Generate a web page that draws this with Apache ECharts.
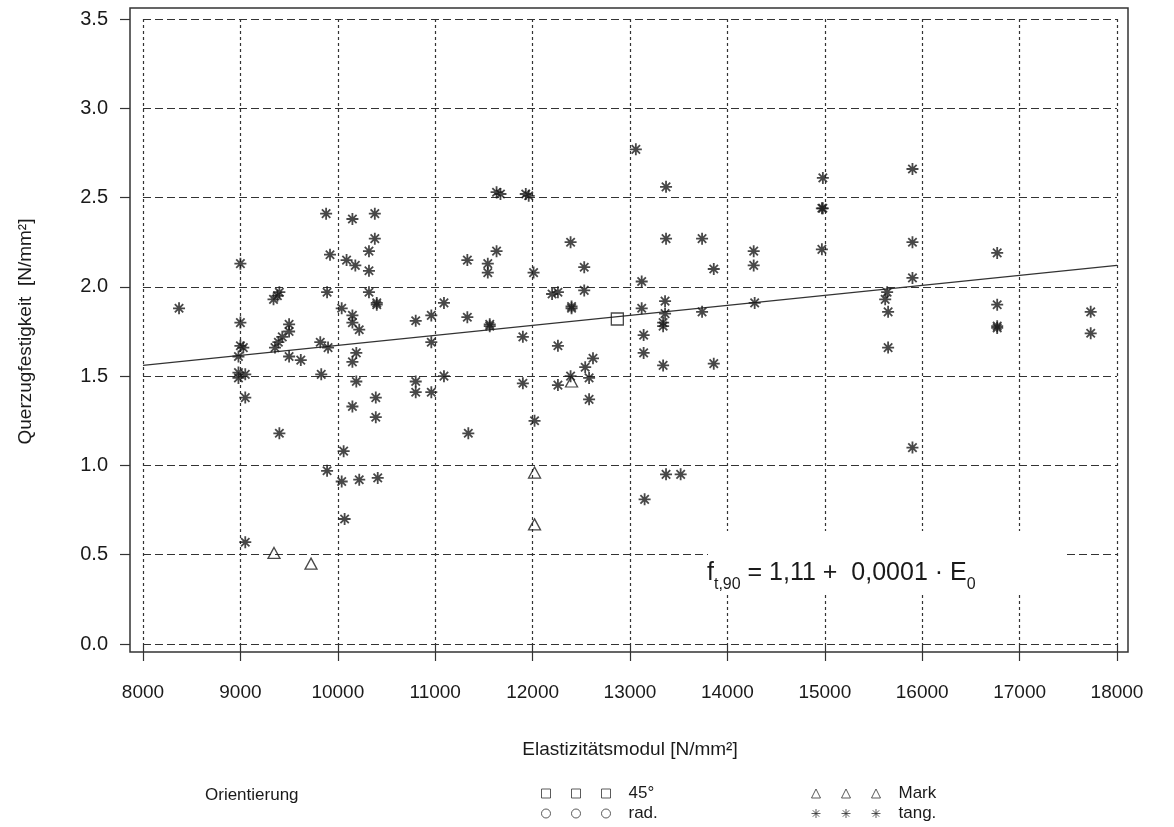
<!DOCTYPE html>
<html>
<head>
<meta charset="utf-8">
<script src="https://cdn.jsdelivr.net/npm/echarts@6/dist/echarts.min.js"></script>
<style>
html,body{margin:0;padding:0;background:#fff;}
#chart{width:1174px;height:827px;}
</style>
</head>
<body>
<div id="chart"></div>
<script>
// ---- data ----
var xTicks = [8000, 9000, 10000, 11000, 12000, 13000, 14000, 15000, 16000, 17000, 18000];
var yTicks = ['0.0', '0.5', '1.0', '1.5', '2.0', '2.5', '3.0', '3.5'];

var tangE = [8370, 9000, 9000, 9000, 9030, 8980, 8980, 9050, 8980, 9050, 9050,
  9400, 9380, 9340, 9500, 9500, 9430, 9390, 9355, 9500, 9620, 9400,
  9820, 9900, 9830, 9880, 9920, 9890, 9890,
  10040, 10150, 10380, 10380, 10320, 10090, 10180, 10320, 10320, 10400, 10400,
  10150, 10150, 10220, 10190, 10150, 10190, 10390, 10150, 10390, 10060, 10040, 10220, 10410, 10070,
  10800, 10960, 11090, 10960, 11090, 10800, 10800, 10960,
  11330, 11540, 11540, 11630, 11330, 11560, 11560, 11340, 11630, 11670, 11930, 11960,
  12010, 11900, 11900, 12020, 12200, 12260, 12390, 12530, 12530, 12400, 12400, 12260,
  12620, 12540, 12580, 12390, 12260, 12580,
  13060, 13370, 13370, 13120, 13120, 13360, 13360, 13340, 13340, 13140, 13140, 13340,
  13370, 13520, 13150, 13740, 13740, 13860, 13860, 14270, 14270, 14280,
  14980, 14970, 14980, 14970, 15640, 15620, 15650, 15650, 15900, 15900, 15900, 15900,
  16770, 16770, 16770, 16770, 17730, 17730];
var tangF = [1.88, 2.13, 1.80, 1.67, 1.66, 1.61, 1.52, 1.51, 1.49, 1.38, 0.57,
  1.97, 1.95, 1.93, 1.79, 1.75, 1.72, 1.69, 1.66, 1.61, 1.59, 1.18,
  1.69, 1.66, 1.51, 2.41, 2.18, 1.97, 0.97,
  1.88, 2.38, 2.41, 2.27, 2.20, 2.15, 2.12, 2.09, 1.97, 1.90, 1.91,
  1.84, 1.80, 1.76, 1.63, 1.58, 1.47, 1.38, 1.33, 1.27, 1.08, 0.91, 0.92, 0.93, 0.70,
  1.81, 1.84, 1.91, 1.69, 1.50, 1.47, 1.41, 1.41,
  2.15, 2.13, 2.08, 2.20, 1.83, 1.79, 1.78, 1.18, 2.53, 2.52, 2.52, 2.51,
  2.08, 1.72, 1.46, 1.25, 1.96, 1.97, 2.25, 2.11, 1.98, 1.89, 1.88, 1.67,
  1.60, 1.55, 1.49, 1.50, 1.45, 1.37,
  2.77, 2.56, 2.27, 2.03, 1.88, 1.92, 1.85, 1.80, 1.78, 1.73, 1.63, 1.56,
  0.95, 0.95, 0.81, 2.27, 1.86, 2.10, 1.57, 2.20, 2.12, 1.91,
  2.61, 2.44, 2.44, 2.21, 1.97, 1.93, 1.86, 1.66, 2.66, 2.25, 2.05, 1.10,
  2.19, 1.90, 1.78, 1.77, 1.86, 1.74];

var markE = [9345, 9725, 12020, 12020, 12400];
var markF = [0.51, 0.45, 0.96, 0.67, 1.47];

var deg45E = [12870];
var deg45F = [1.82];

var radE = [];
var radF = [];

// regression line f = 1,11 + 0,0001 * E0 (as drawn)
var lineE = [8000, 18000];
var lineF = [1.56, 2.12];

var seriesNames = ['45°', 'rad.', 'Mark', 'tang.'];

// ---- helpers ----
function pairs(a, b) { var r = []; for (var i = 0; i < a.length; i++) r.push([a[i], b[i]]); return r; }

var FONT = '"Liberation Sans", Arial, Helvetica, sans-serif';
var INK = '#1a1a1a';
var ASTER = 'path://M5,0V10M0,5H10M1.5,1.5L8.5,8.5M1.5,8.5L8.5,1.5';

var iconSquares = 'path://M0,0H9V9H0Z M30,0H39V9H30Z M60,0H69V9H60Z';
var iconCircles = 'path://M0,4.5A4.5,4.5 0 1 1 9,4.5A4.5,4.5 0 1 1 0,4.5Z M30,4.5A4.5,4.5 0 1 1 39,4.5A4.5,4.5 0 1 1 30,4.5Z M60,4.5A4.5,4.5 0 1 1 69,4.5A4.5,4.5 0 1 1 60,4.5Z';
var iconTriangles = 'path://M4.5,0L9,9H0Z M34.5,0L39,9H30Z M64.5,0L69,9H60Z';
var iconAsters = 'path://M4.5,0V9M0,4.5H9M1.3,1.3L7.7,7.7M1.3,7.7L7.7,1.3 M34.5,0V9M30,4.5H39M31.3,1.3L37.7,7.7M31.3,7.7L37.7,1.3 M64.5,0V9M60,4.5H69M61.3,1.3L67.7,7.7M61.3,7.7L67.7,1.3';

var openStyle = { color: 'rgba(0,0,0,0)', borderColor: INK, borderWidth: 1.3 };

var legendCommon = {
  orient: 'vertical',
  selectedMode: false,
  padding: 0,
  height: 60,
  itemWidth: 69,
  itemHeight: 9,
  itemGap: 3,
  itemStyle: { color: 'rgba(0,0,0,0)', borderColor: '#333', borderWidth: 1 },
  formatter: function (n) { return '{t|' + n + '}'; },
  textStyle: {
    color: INK, fontFamily: FONT, fontSize: 17,
    rich: { t: { padding: [0, 0, 0, 13], fontSize: 17, fontFamily: FONT, color: INK, lineHeight: 19 } }
  }
};

var chart = echarts.init(document.getElementById('chart'), null, { renderer: 'canvas' });
var option = {
  backgroundColor: '#fff',
  animation: false,
  grid: { left: 143, right: 57, top: 19, bottom: 183, containLabel: false, outerBoundsMode: 'none' },
  xAxis: {
    type: 'value', min: 8000, max: 18000, interval: 1000, offset: 8,
    name: 'Elastizitätsmodul [N/mm²]', nameLocation: 'middle', nameGap: 88,
    nameTextStyle: { color: INK, fontFamily: FONT, fontSize: 19 },
    axisLine: { show: false },
    axisTick: { show: true, length: 17, lineStyle: { color: '#333', width: 1.2 } },
    axisLabel: { color: INK, fontFamily: FONT, fontSize: 19, margin: 31,
      formatter: function (v) { return xTicks.indexOf(v) >= 0 ? String(v) : ''; } },
    splitLine: { show: true, lineStyle: { type: [3, 3], color: '#333', width: 1.2 } }
  },
  yAxis: {
    type: 'value', min: 0, max: 3.5, interval: 0.5, offset: 13,
    name: 'Querzugfestigkeit  [N/mm²]', nameLocation: 'middle', nameGap: 95, nameRotate: 90,
    nameTextStyle: { color: INK, fontFamily: FONT, fontSize: 19 },
    axisLine: { show: false },
    axisTick: { show: true, length: 10, lineStyle: { color: '#333', width: 1.2 } },
    axisLabel: { color: INK, fontFamily: FONT, fontSize: 20, margin: 22,
      formatter: function (v) { return yTicks[Math.round(v / 0.5)]; } },
    splitLine: { show: true, lineStyle: { type: [8, 4], color: '#333', width: 1.2 } }
  },
  legend: [
    Object.assign({}, legendCommon, { left: 541, top: 785,
      data: [{ name: '45°', icon: iconSquares }, { name: 'rad.', icon: iconCircles }] }),
    Object.assign({}, legendCommon, { left: 811, top: 785,
      data: [{ name: 'Mark', icon: iconTriangles }, { name: 'tang.', icon: iconAsters }] })
  ],
  series: [
    { name: 'Regression', type: 'line', data: pairs(lineE, lineF), showSymbol: false, symbol: 'none',
      lineStyle: { color: '#333', width: 1.3 }, silent: true, z: 3 },
    { name: seriesNames[3], type: 'scatter', data: pairs(tangE, tangF), symbol: ASTER, symbolSize: 12,
      itemStyle: { color: 'rgba(0,0,0,0)', borderColor: INK, borderWidth: 1.8 }, silent: true, z: 4 },
    { name: seriesNames[2], type: 'scatter', data: pairs(markE, markF), symbol: 'triangle', symbolSize: [12, 11],
      itemStyle: openStyle, silent: true, z: 4 },
    { name: seriesNames[0], type: 'scatter', data: pairs(deg45E, deg45F), symbol: 'rect', symbolSize: 12,
      itemStyle: openStyle, silent: true, z: 4 },
    { name: seriesNames[1], type: 'scatter', data: pairs(radE, radF), symbol: 'circle', symbolSize: 11,
      itemStyle: openStyle, silent: true, z: 4 }
  ],
  graphic: [
    { type: 'rect', z: 1, silent: true,
      shape: { x: 130, y: 8, width: 998, height: 644 },
      style: { fill: 'none', stroke: '#333', lineWidth: 1.5 } },
    { type: 'rect', z: 50, silent: true,
      shape: { x: 708, y: 531, width: 355, height: 64 },
      style: { fill: '#fff', stroke: 'none' } },
    { type: 'text', z: 60, silent: true, x: 707, y: 576,
      style: {
        text: '{a|f}{s|t,90}{a| = 1,11 +  0,0001 · E}{s|0}',
        verticalAlign: 'middle',
        rich: {
          a: { fontFamily: FONT, fontSize: 25, fill: INK, color: INK, verticalAlign: 'bottom', lineHeight: 34, padding: [0, 0, 7, 0] },
          s: { fontFamily: FONT, fontSize: 16, fill: INK, color: INK, verticalAlign: 'bottom', lineHeight: 34 }
        }
      } },
    { type: 'text', z: 60, silent: true, x: 205, y: 795,
      style: { text: 'Orientierung', font: '17px ' + FONT, fill: INK, verticalAlign: 'middle' } }
  ]
};
chart.setOption(option);
</script>
</body>
</html>
